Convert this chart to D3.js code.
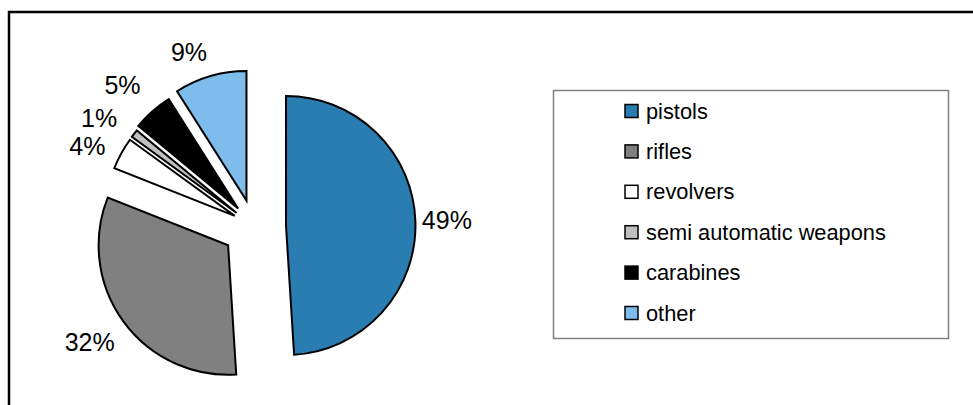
<!DOCTYPE html>
<html><head><meta charset="utf-8">
<script src="https://cdn.jsdelivr.net/npm/d3@7"></script>
<style>html,body{margin:0;padding:0;background:#fff;}svg{display:block;font-family:"Liberation Sans",Arial,sans-serif;}</style>
</head><body>
<svg id="c" width="973" height="405"></svg>
<script>
const categories = ["pistols","rifles","revolvers","semi automatic weapons","carabines","other"];
const values = [49, 32, 4, 1, 5, 9];
const colors = ["#2A7DB1","#808080","#FFFFFF","#C0C0C0","#000000","#7DBCEB"];
const explode = [32, 32, 22, 22, 24, 27];
// label placement style: distance from slice apex and angular nudge (degrees)
const labelRadius = [161, 169, 163, 167, 169, 159];
const labelNudge = [0, 1, -3.5, -3.2, -1.8, -5];

const svg = d3.select("#c");
svg.append("rect").attr("x",9).attr("y",12).attr("width",1100).attr("height",600)
  .attr("fill","#fff").attr("stroke","#000").attr("stroke-width",2.5);

const cx = 254, cy = 226.5, r = 129.5;
const pie = d3.pie().sort(null).value(d => d)(values);
const arc = d3.arc().innerRadius(0).outerRadius(r);
const total = d3.sum(values);

const g = svg.append("g").attr("transform", `translate(${cx},${cy})`);
pie.forEach((p, i) => {
  const mid = (p.startAngle + p.endAngle) / 2;
  const ox = Math.sin(mid) * explode[i], oy = -Math.cos(mid) * explode[i];
  const sg = g.append("g").attr("transform", `translate(${ox},${oy})`);
  sg.append("path").attr("d", arc(p)).attr("fill", colors[i])
    .attr("stroke", "#000").attr("stroke-width", 2).attr("stroke-linejoin","miter");
  const la = mid + labelNudge[i] * Math.PI / 180;
  const lr = labelRadius[i];
  sg.append("text").attr("x", Math.sin(la) * lr).attr("y", -Math.cos(la) * lr)
    .attr("text-anchor","middle").attr("dominant-baseline","central")
    .attr("font-size", 25).attr("fill","#000")
    .text(Math.round(values[i] / total * 100) + "%");
});

// legend
svg.append("rect").attr("x",553.5).attr("y",90.5).attr("width",395).attr("height",248)
  .attr("fill","#fff").attr("stroke","#808080").attr("stroke-width",1.5);
const ly = d3.scalePoint().domain(categories).range([111, 313]);
const lg = svg.append("g");
categories.forEach((c, i) => {
  const y = ly(c);
  lg.append("rect").attr("x",625).attr("y",y-6.5).attr("width",13).attr("height",13)
    .attr("fill",colors[i]).attr("stroke","#000").attr("stroke-width",1.5);
  lg.append("text").attr("x",646).attr("y",y).attr("dominant-baseline","central")
    .attr("font-size",21.8).attr("fill","#000").text(c);
});
</script>
</body></html>
